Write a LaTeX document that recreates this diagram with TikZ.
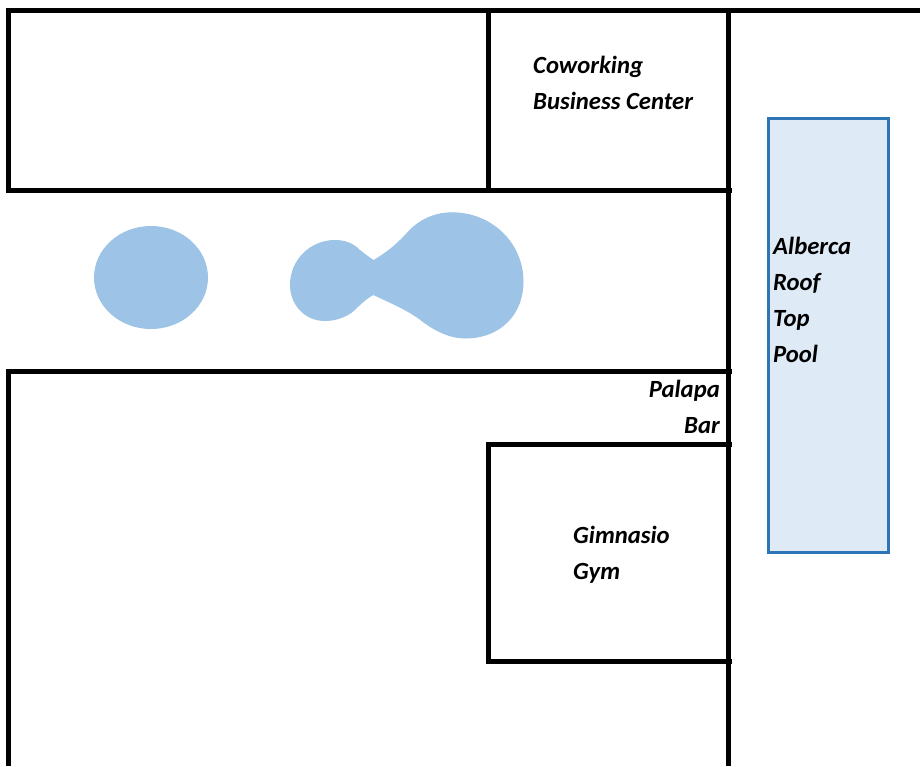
\documentclass[tikz,border=0pt]{standalone}
\usepackage{fontspec}
\setmainfont{Carlito}
\definecolor{poolfill}{HTML}{DEEAF6}
\definecolor{poolline}{HTML}{2E75B6}
\definecolor{blobfill}{HTML}{9DC3E6}
\tikzset{
  wall/.style={line width=5pt,black,line cap=butt},
  lbl/.style={font=\fontsize{24.7}{24.7}\selectfont\bfseries\itshape,inner sep=0pt,anchor=base west},
  lblr/.style={lbl,anchor=base east},
  blob/.style={fill=blobfill,draw=none}
}
\begin{document}
\begin{tikzpicture}[x=1pt,y=-1pt]
\useasboundingbox (0,0) rectangle (920,766);
\fill[white] (0,0) rectangle (920,766);
% walls
\draw[wall] (6,10.4) -- (920,10.4);
\draw[wall] (8.6,8) -- (8.6,190);
\draw[wall] (6,190) -- (732,190);
\draw[wall] (488.5,10) -- (488.5,190);
\draw[wall] (728.5,10) -- (728.5,766);
\draw[wall] (6,371.5) -- (732,371.5);
\draw[wall] (8.6,371.5) -- (8.6,766);
\draw[wall] (486,444.2) -- (732,444.2);
\draw[wall] (488.5,444.2) -- (488.5,661.5);
\draw[wall] (486,661.5) -- (732,661.5);
% pool
\draw[fill=poolfill,draw=poolline,line width=3pt] (768,118) rectangle (888.5,552);
% water shapes
\fill[blob] (151,277.5) ellipse [x radius=57,y radius=51.5];
\fill[blob] (373.7,260)
  .. controls (385,253) and (395,246) .. (406.7,233)
  .. controls (418,220) and (434,212.3) .. (452,212.3)
  .. controls (492,212.3) and (523.5,243) .. (523.5,281.7)
  .. controls (523.5,314) and (501,338.5) .. (465,338.5)
  .. controls (450,338.5) and (434,331) .. (419,319)
  .. controls (405,309) and (388,302) .. (373.3,295)
  .. controls (366,299) and (360,305) .. (353,311.7)
  .. controls (346,317) and (336,321) .. (325,321)
  .. controls (304,321) and (290,304) .. (290,285)
  .. controls (290,259) and (311,240) .. (335,240)
  .. controls (345,240) and (353,243) .. (360,250)
  .. controls (365,254) and (369,257) .. (373.7,260) -- cycle;
% labels
\node[lbl] (cow) at (533,73.5) {Coworking};
\node[lbl] (biz) at (533,109.5) {Business Center};
\node[lbl] (alb) at (773,254.5) {Alberca};
\node[lbl] (roof) at (773,290.5) {Roof};
\node[lbl] (top) at (773,326.5) {Top};
\node[lbl] (pool) at (773,362.5) {Pool};
\node[lblr] (pal) at (720,397.5) {Palapa};
\node[lblr] (bar) at (720,433.5) {Bar};
\node[lbl] (gim) at (573,543.5) {Gimnasio};
\node[lbl] (gym) at (573,579.5) {Gym};
\end{tikzpicture}
\end{document}
